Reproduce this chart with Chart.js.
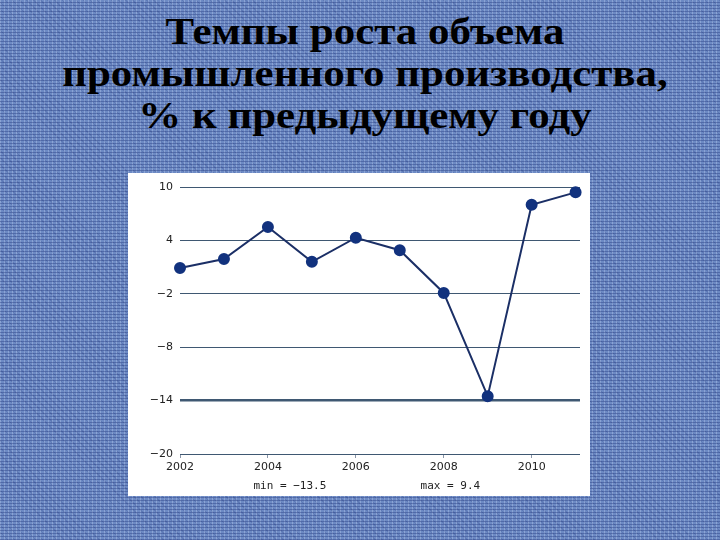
<!DOCTYPE html>
<html>
<head>
<meta charset="utf-8">
<script src="https://cdn.jsdelivr.net/npm/chart.js@4"></script>
<style>
    html, body { margin: 0; padding: 0; }
    body {
        width: 720px; height: 540px; overflow: hidden; position: relative;
        background-color: #6d8ac4;
        background-image:
            repeating-linear-gradient(0deg, rgba(25,45,115,0.35) 0 1px, transparent 1px 3px),
            repeating-linear-gradient(90deg, rgba(215,230,255,0.28) 0 1px, transparent 1px 4px),
            repeating-linear-gradient(45deg, rgba(30,50,120,0.18) 0 1px, transparent 1px 5px);
    }
    #title {
        position: absolute; left: 5px; top: 10px; width: 720px;
        text-align: center; color: #000;
        font-family: "Liberation Serif", "Times New Roman", serif;
        font-weight: bold; font-size: 38px; line-height: 42px;
        transform: scaleX(1.13); transform-origin: 360px 0;
    }
    #panel {
        position: absolute; left: 128px; top: 173px; width: 462px; height: 323px;
        background: #fff;
    }
</style>
</head>
<body>
<div id="title">Темпы роста объема<br>промышленного производства,<br>% к предыдущему году</div>
<div id="panel"><canvas id="growthChart"></canvas></div>
<script>
const years = [2002, 2003, 2004, 2005, 2006, 2007, 2008, 2009, 2010, 2011]
const growth = [0.9, 1.9, 5.5, 1.6, 4.3, 2.9, -1.9, -13.5, 8.0, 9.4]
const yTicks = [-20, -14, -8, -2, 4, 10]
const xTicks = [2002, 2004, 2006, 2008, 2010]

const minus = s => String(s).replace('-', '\u2212')

// min / max notes under the x axis
const notesPlugin = {
    id: 'notes',
    afterDraw(chart) {
        const ctx = chart.ctx
        const minVal = Math.min(...growth)
        const maxVal = Math.max(...growth)
        ctx.save()
        ctx.font = '11px "DejaVu Sans Mono", monospace'
        ctx.fillStyle = '#222'
        ctx.textAlign = 'center'
        ctx.textBaseline = 'middle'
        ctx.fillText('min = ' + minus(minVal), chart.scales.x.getPixelForValue(2004.5), 313)
        ctx.fillText('max = ' + minus(maxVal), chart.scales.x.getPixelForValue(2008.15), 313)
        ctx.restore()
    }
}

const ctx = document.getElementById('growthChart').getContext('2d')
const growthChart = new Chart(ctx, {
    type: 'line',
    data: {
        datasets: [{
            data: years.map((y, i) => ({ x: y, y: growth[i] })),
            borderColor: '#1b2f66',
            borderWidth: 2,
            backgroundColor: '#12327e',
            pointBackgroundColor: '#12327e',
            pointBorderColor: '#12327e',
            pointRadius: 5,
            tension: 0,
            clip: false
        }]
    },
    options: {
        responsive: true,
        maintainAspectRatio: false,
        animation: false,
        layout: { padding: { top: 14, right: 10, left: 0, bottom: 0 } },
        plugins: {
            legend: { display: false },
            tooltip: { enabled: false }
        },
        scales: {
            x: {
                type: 'linear',
                min: 2002,
                max: 2011.1,
                afterBuildTicks: scale => { scale.ticks = xTicks.map(v => ({ value: v })) },
                afterFit: scale => { scale.height = 42 },
                border: { display: false },
                grid: { drawOnChartArea: false, drawTicks: true, tickLength: 4, color: '#8a96a8' },
                ticks: {
                    padding: 3,
                    color: '#222',
                    maxRotation: 0,
                    font: { family: 'DejaVu Sans', size: 11 },
                    callback: v => String(v)
                }
            },
            y: {
                min: -20,
                max: 10,
                afterBuildTicks: scale => { scale.ticks = yTicks.map(v => ({ value: v })) },
                afterFit: scale => { scale.width = 52 },
                border: { display: false },
                grid: {
                    drawTicks: false,
                    color: '#3f5872',
                    lineWidth: c => (c.tick && c.tick.value === -14 ? 2.5 : 1)
                },
                ticks: {
                    padding: 7,
                    color: '#222',
                    font: { family: 'DejaVu Sans', size: 11 },
                    callback: v => minus(v)
                }
            }
        }
    },
    plugins: [notesPlugin]
})
</script>
</body>
</html>
